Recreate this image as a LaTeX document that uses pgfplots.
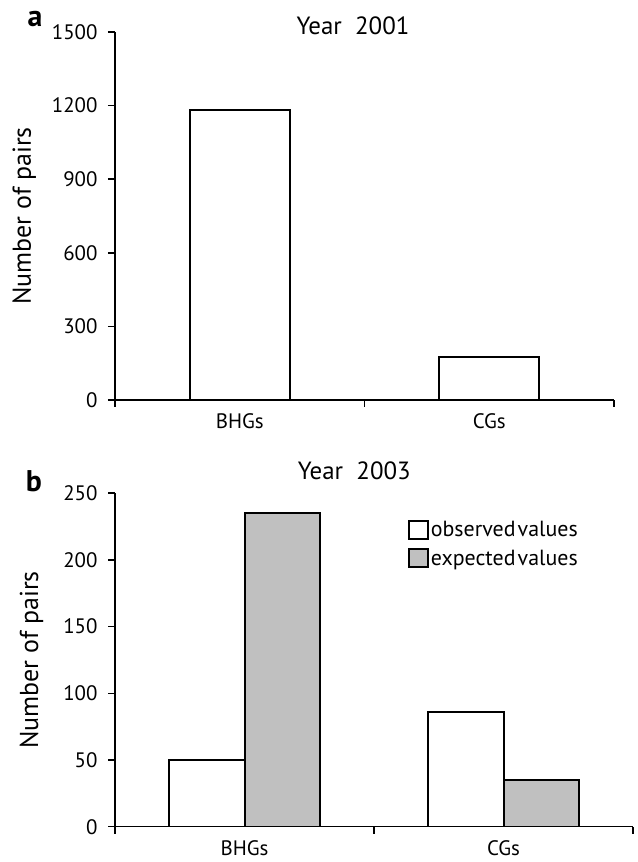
\documentclass[border=0pt]{standalone}
\usepackage{fontspec}
\setmainfont{PT Sans}
\usepackage{pgfplots}
\pgfplotsset{compat=1.18}
\definecolor{expgray}{RGB}{192,192,192}
\pgfplotsset{
  myaxis/.style={
    scale only axis,
    axis x line*=bottom, axis y line*=left,
    axis line style={line width=1.6bp, black},
    xmin=0, xmax=2, ymin=0,
    xtick={0.5,1.5}, xticklabels={BHGs,CGs},
    minor xtick={0,1,2},
    major x tick style={draw=none},
    tick align=outside,
    tick style={line width=1.6bp, black},
    major tick length=7bp, minor tick length=7bp,
    ticklabel style={font=\fontsize{21}{23}\selectfont},
    yticklabel style={xshift=-7bp},
    xticklabel style={yshift=-3bp},
    ylabel={Number of pairs},
    ylabel style={font=\fontsize{26}{28}\selectfont, rotate=0, anchor=center},
    title style={font=\fontsize{25}{27}\selectfont, anchor=center},
    /pgf/number format/assume math mode=true,
    /pgf/number format/1000 sep={},
    ybar,
  },
  sqlegend/.style={legend image code/.code={\draw[##1, line width=2bp] (0bp,-9bp) rectangle (19bp,9bp);}},
}
\begin{document}
\begin{tikzpicture}[x=1bp,y=1bp]
\useasboundingbox (0,0) rectangle (638,862);
\begin{axis}[myaxis,
  at={(115bp,462bp)}, anchor=south west,
  width=499bp, height=368bp,
  ymax=1500, ytick={0,300,...,1500},
  bar width=0.4,
  ylabel style={at={(rel axis cs:-0.182,0.5)}},
  title={Year\ \ 2001},
  title style={at={(rel axis cs:0.477,1.0)}},
]
\addplot[draw=black, fill=white, line width=2bp] coordinates {(0.5,1180) (1.5,177)};
\end{axis}
\begin{axis}[myaxis,
  at={(115bp,35.3bp)}, anchor=south west,
  width=518bp, height=333.4bp,
  ymax=250, ytick={0,50,...,250},
  bar width=0.29,
  ylabel style={at={(rel axis cs:-0.161,0.5)}},
  title={Year\ \ 2003},
  title style={at={(rel axis cs:0.462,1.05)}},
  legend style={at={(0.565,0.923)}, anchor=north west, draw=none, fill=none,
    font=\fontsize{22}{24}\selectfont, inner sep=0pt, row sep=8bp,
    nodes={inner sep=2bp}},
  legend cell align=left,
]
\addplot[draw=black, fill=white, line width=2bp, bar shift=-0.145, sqlegend] coordinates {(0.5,50) (1.5,86)};
\addlegendentry{observed\hspace{0.1em}values}
\addplot[draw=black, fill=expgray, line width=2bp, bar shift=0.145, sqlegend] coordinates {(0.5,235) (1.5,35)};
\addlegendentry{expected\hspace{0.1em}values}
\end{axis}
\node[font=\bfseries\fontsize{30}{32}\selectfont, anchor=base] at (35,835) {a};
\node[font=\bfseries\fontsize{30}{32}\selectfont, anchor=base] at (34,370) {b};
\end{tikzpicture}
\end{document}
